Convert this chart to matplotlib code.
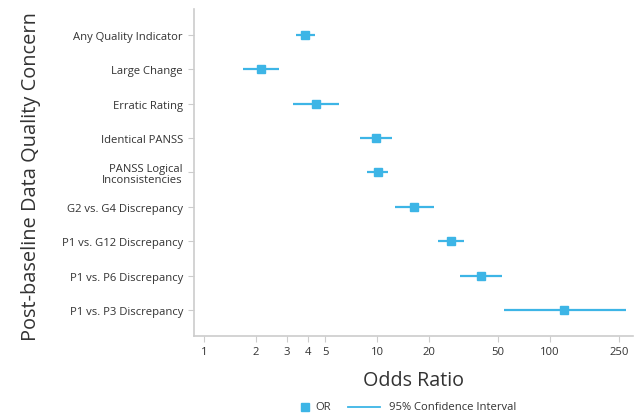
import matplotlib
matplotlib.use("Agg")
import matplotlib.pyplot as plt
from matplotlib.lines import Line2D
from matplotlib.ticker import FixedLocator, FixedFormatter, NullLocator

plt.rcParams['font.family'] = ['Open Sans', 'DejaVu Sans']

categories = ["Any Quality Indicator", "Large Change", "Erratic Rating", "Identical PANSS",
              "PANSS Logical\nInconsistencies", "G2 vs. G4 Discrepancy", "P1 vs. G12 Discrepancy",
              "P1 vs. P6 Discrepancy", "P1 vs. P3 Discrepancy"]
odds_ratio = [3.85, 2.13, 4.42, 9.85, 10.07, 16.3, 26.6, 39.6, 121]
ci_low = [3.41, 1.68, 3.25, 7.92, 8.77, 12.7, 22.4, 30.0, 54.3]
ci_high = [4.38, 2.71, 6.04, 12.2, 11.6, 21.3, 31.7, 52.9, 275]
x_ticks = [1, 2, 3, 4, 5, 10, 20, 50, 100, 250]
x_tick_labels = ["1", "2", "3", "4", "5", "10", "20", "50", "100", "250"]

color = "#3db5e6"
text_color = "#333333"
spine_color = "#cccccc"

fig = plt.figure(figsize=(6.34, 4.14), dpi=100)
ax = fig.add_axes([0.306, 0.186, 0.692, 0.790])

ypos = list(range(len(categories)))
ax.hlines(ypos, ci_low, ci_high, color=color, lw=1.6, zorder=2)
ax.plot(odds_ratio, ypos, linestyle="none", marker="s", markersize=6, color=color, zorder=3)

ax.set_xscale("log")
ax.set_xlim(0.875, 300)
ax.set_ylim(len(categories) - 0.25, -0.75)
ax.xaxis.set_major_locator(FixedLocator(x_ticks))
ax.xaxis.set_major_formatter(FixedFormatter(x_tick_labels))
ax.xaxis.set_minor_locator(NullLocator())
ax.set_yticks(ypos)
ax.set_yticklabels(categories, fontsize=8.1, color=text_color, linespacing=1.0)
ax.tick_params(axis="x", labelsize=8.1, labelcolor=text_color, color=spine_color, length=4, pad=3)
ax.tick_params(axis="y", color=spine_color, length=4, pad=4)

for s in ["top", "right"]:
    ax.spines[s].set_visible(False)
for s in ["left", "bottom"]:
    ax.spines[s].set_color(spine_color)
    ax.spines[s].set_linewidth(1.2)

ax.set_xlabel("Odds Ratio", fontsize=14.2, color=text_color)
ax.xaxis.set_label_coords(0.5, -0.105)
ax.set_ylabel("Post-baseline Data Quality Concern", fontsize=14.4, color=text_color)
ax.yaxis.set_label_coords(-0.348, 0.49)

# legend drawn in figure coordinates
leg_y = 1 - 408 / 414
fig.add_artist(Line2D([305 / 634], [leg_y], transform=fig.transFigure, linestyle="none",
                      marker="s", markersize=6, color=color))
fig.text(315 / 634, leg_y, "OR", fontsize=8.1, color=text_color, va="center", ha="left")
fig.add_artist(Line2D([348 / 634, 380 / 634], [leg_y, leg_y], transform=fig.transFigure,
                      color=color, lw=1.3))
fig.text(389 / 634, leg_y, "95% Confidence Interval", fontsize=8.1, color=text_color,
         va="center", ha="left")

fig.savefig("out.png", dpi=100)
